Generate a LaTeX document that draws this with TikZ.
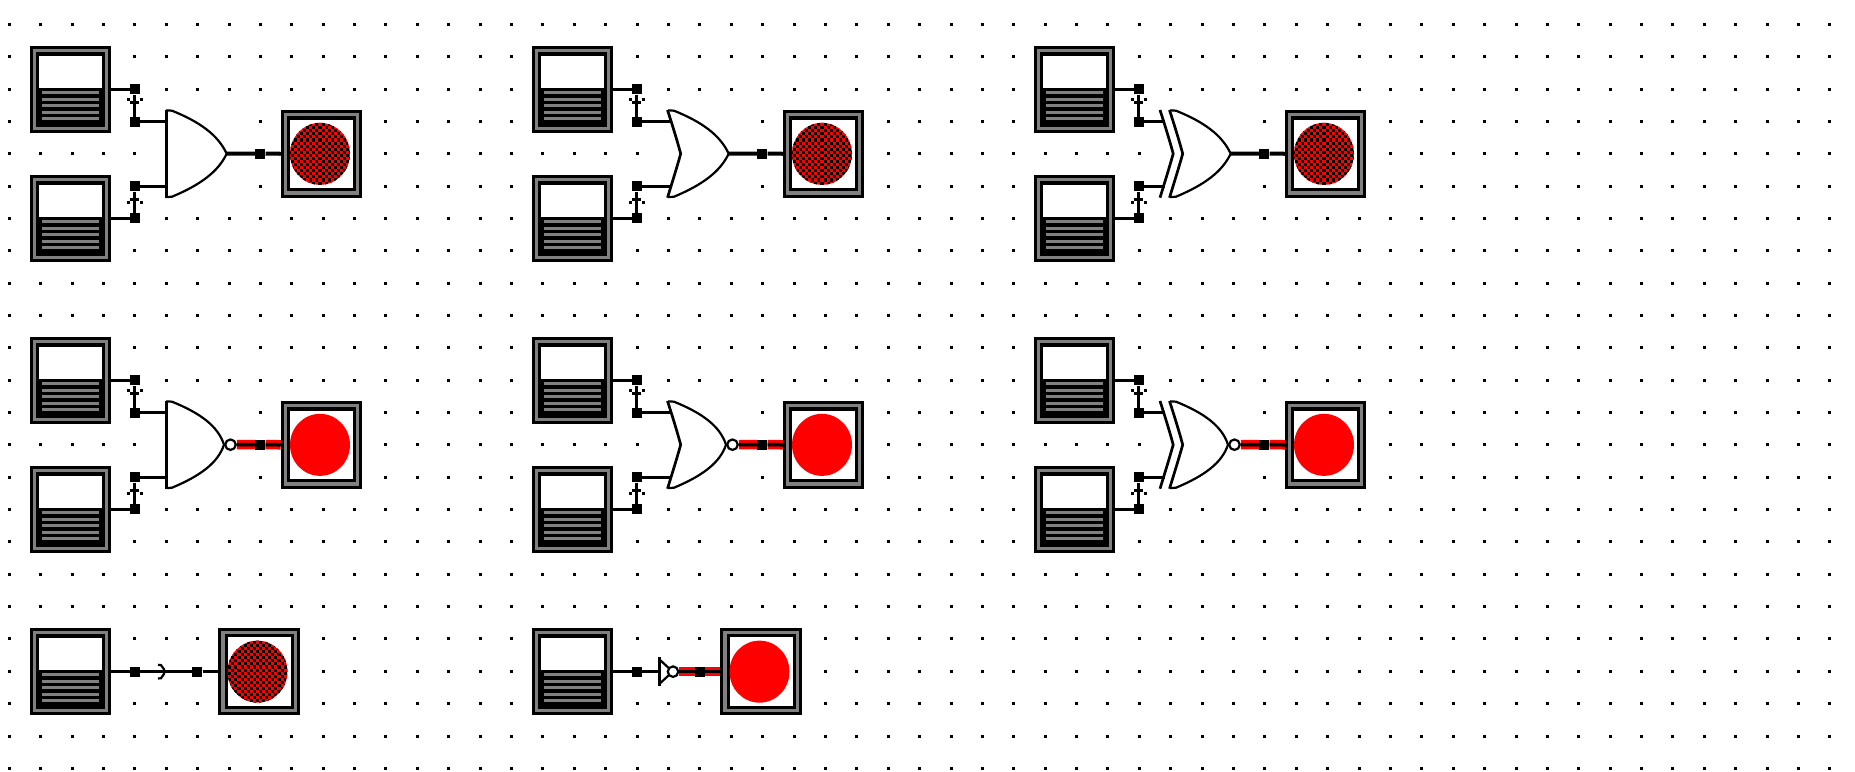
\documentclass[tikz,border=0pt]{standalone}
\usepackage{tikz}
\tikzset{
  frame/.style={draw=black,fill=gray,line width=3pt,minimum width=78.5pt,minimum height=84.5pt,inner sep=0pt},
  pin/.style={fill=black,minimum size=10pt,inner sep=0pt},
  wire/.style={line width=2.7pt},
  lowout/.style={line width=4pt},
  highout/.style={draw=red,double=black,double distance=3.5pt,line width=3pt},
  gateline/.style={line width=2.2pt},
  bubble/.style={circle,draw=black,fill=white,line width=2.2pt,minimum size=10.5pt,inner sep=0pt}
}
\newcommand{\inputBox}[2]{
  \node[frame] (#1) at (#2) {};
  \begin{scope}[shift={(#2)}]
    \fill[black] (-34.5,-37.4) rectangle (34.5,37.4);
    \fill[white] (-31.5,-33.4) rectangle (31.5,-1.4);
    \foreach \barpos in {3.3,10,16.3,22.8,29}
      \fill[gray] (-28.5,\barpos-1.5) rectangle (28.5,\barpos+1.5);
  \end{scope}
}
\newcommand{\lampFrame}[2]{
  \node[frame] (#1) at (#2) {};
  \fill[black,shift={(#2)}] (-34.5,-37.5) rectangle (34.5,37.5);
  \fill[white,shift={(#2)}] (-31.5,-34.2) rectangle (31.5,34.2);
}
\newcommand{\lampOn}[2]{
  \lampFrame{#1}{#2}
  \fill[red,shift={(#2)}] (-1.5,0) ellipse [x radius=30,y radius=31];
}
\newcommand{\lampOff}[2]{
  \lampFrame{#1}{#2}
  \begin{scope}[shift={(#2)}]
    \clip (-1.5,0) ellipse [x radius=30,y radius=31];
    \fill[red] (-33,-33) rectangle (33,33);
    \foreach \i in {-11,...,10}
      \foreach \j in {-11,...,10} {
        \ifodd\numexpr\i+\j+20\relax\else
          \fill[black] (\i*3.08,\j*3.08) rectangle +(3.08,3.08);
        \fi
      }
  \end{scope}
}
\newcommand{\andBack}[1]{
  \draw[line width=2.7pt] (166.3,110) -- (166.3,198);
  \coordinate (in-a-#1) at (166.3,121.7);
  \coordinate (in-b-#1) at (166.3,186.3);
}
\newcommand{\orBack}[1]{
  \draw[line width=2.7pt] (165.5,110) .. controls (170,124) and (175,140) .. (178.7,153.7)
    .. controls (175,167) and (170,183) .. (165.5,197.7);
  \coordinate (in-a-#1) at (169.7,121.7);
  \coordinate (in-b-#1) at (169.7,186.3);
}
\newcommand{\xorBack}[1]{
  \orBack{x-#1}
  \draw[line width=2.7pt] (156,110) .. controls (160.5,124) and (165.5,140) .. (169.2,153.7)
    .. controls (165.5,167) and (160.5,183) .. (156,197.7);
  \coordinate (in-a-#1) at (160.5,121.7);
  \coordinate (in-b-#1) at (160.5,186.3);
}
\newcommand{\pinLink}[4]{
  \draw[wire] (#1) -- (#2);
  \begin{scope}[shift={(#1)}]
    \fill[black] (-8,#3-1.5) rectangle (-5,#3+1.5);
    \fill[black] (5,#3-1.5) rectangle (8,#3+1.5);
    \fill[black] (-4.5,#4-1.3) rectangle (4.5,#4+1.3);
  \end{scope}
}
\newcommand{\gateInputs}[3]{
  \fill[white] (150,100) rectangle (245,205);
  \inputBox{box-a-#1}{70.35,89.35}
  \inputBox{box-b-#1}{70.35,218.35}
  \node[pin] (pin-a-#1) at (134.7,89.35) {};
  \node[pin] (pin-c-#1) at (134.7,121.7) {};
  \node[pin] (pin-d-#1) at (134.7,186.3) {};
  \node[pin] (pin-b-#1) at (134.7,218.35) {};
  \draw[wire] (box-a-#1) -- (pin-a-#1);
  \draw[wire] (box-b-#1) -- (pin-b-#1);
  \pinLink{pin-a-#1}{pin-c-#1}{10}{13}
  \pinLink{pin-d-#1}{pin-b-#1}{16}{13}
  \draw[gateline] (166.3,110.3) -- (172,110.7) .. controls (200,122) and (218,135) .. (#3,153.7)
    .. controls (218,172) and (200,185) .. (172,196.7) -- (166.3,197.1);
  #2{#1}
  \draw[wire] (pin-c-#1) -- (in-a-#1);
  \draw[wire] (pin-d-#1) -- (in-b-#1);
}
\newcommand{\plainUnit}[4]{
  \begin{scope}[shift={(#2,#3)}]
    \gateInputs{#1}{#4}{226.7}
    \coordinate (out-#1) at (226.7,153.7);
    \node[pin] (pin-y-#1) at (260.3,153.7) {};
    \lampOff{lamp-#1}{321.5,153.85}
    \draw[lowout] (out-#1) -- (pin-y-#1) -- (lamp-#1);
  \end{scope}
}
\newcommand{\invUnit}[4]{
  \begin{scope}[shift={(#2,#3)}]
    \gateInputs{#1}{#4}{224}
    \node[bubble] (out-#1) at (230.5,153.7) {};
    \node[pin] (pin-y-#1) at (260.3,153.7) {};
    \lampOn{lamp-#1}{321.5,153.85}
    \draw[highout] (out-#1) -- (pin-y-#1) -- (lamp-#1);
  \end{scope}
}

\begin{document}
\begin{tikzpicture}[x=1pt,y=-1pt]
  \useasboundingbox (0,0) rectangle (1855,771);
  \fill[white] (0,0) rectangle (1855,771);
  \foreach \col in {0,...,58}
    \foreach \row in {0,...,23}
      \fill[black] (7.8+31.39*\col,22.8+32.35*\row) rectangle +(3,3);

  \plainUnit{1-1}{0}{0}{\andBack}
  \plainUnit{2-1}{502}{0}{\orBack}
  \plainUnit{3-1}{1004}{0}{\xorBack}
  \invUnit{1-2}{0}{291}{\andBack}
  \invUnit{2-2}{502}{291}{\orBack}
  \invUnit{3-2}{1004}{291}{\xorBack}

  \begin{scope}[shift={(0,582.3)}]
    \inputBox{box-1-3}{70.35,89.35}
    \node[pin] (pin-a-1-3) at (134.7,89.35) {};
    \node[pin] (pin-y-1-3) at (197.3,89.35) {};
    \lampOff{lamp-1-3}{259,89.35}
    \fill[white] (155,80) rectangle (175,100);
    \draw[wire] (box-1-3) -- (pin-a-1-3) -- (pin-y-1-3) -- (lamp-1-3);
    \draw[gateline] (158,82.5) -- (161,82.8) -- (164,87) -- (164,91.7) -- (161,95.9) -- (158,96.2);
  \end{scope}

  \begin{scope}[shift={(502,582.3)}]
    \inputBox{box-2-3}{70.35,89.35}
    \node[pin] (pin-a-2-3) at (134.7,89.35) {};
    \coordinate (in-2-3) at (157.3,89.35);
    \draw[wire] (box-2-3) -- (pin-a-2-3) -- (in-2-3);
    \draw[line width=3pt] (157.3,74.7) -- (157.3,103.4);
    \draw[gateline] (157.3,77) -- (166.5,85.5);
    \draw[gateline] (157.3,101.7) -- (166.5,93.2);
    \node[bubble] (out-2-3) at (171,89.35) {};
    \node[pin] (pin-y-2-3) at (198,89.35) {};
    \lampOn{lamp-2-3}{259,89.35}
    \draw[highout] (out-2-3) -- (pin-y-2-3) -- (lamp-2-3);
  \end{scope}
\end{tikzpicture}
\end{document}
